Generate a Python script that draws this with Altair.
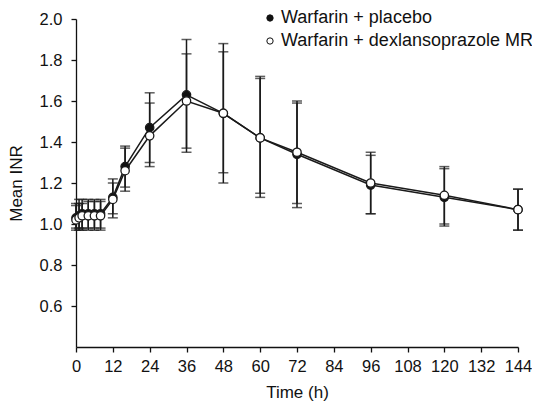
import altair as alt
import pandas as pd

times = [0, 1, 2, 4, 6, 8, 12, 16, 24, 36, 48, 60, 72, 96, 120, 144]
series_names = ["Warfarin + placebo", "Warfarin + dexlansoprazole MR"]

placebo_mean = [1.03, 1.04, 1.05, 1.05, 1.05, 1.05, 1.13, 1.28, 1.47, 1.63, 1.54, 1.42, 1.34, 1.19, 1.13, 1.07]
placebo_upper = [1.10, 1.12, 1.12, 1.12, 1.12, 1.12, 1.22, 1.38, 1.64, 1.90, 1.88, 1.72, 1.60, 1.35, 1.28, 1.17]
placebo_lower = [0.98, 0.98, 0.98, 0.98, 0.98, 0.98, 1.05, 1.18, 1.30, 1.37, 1.25, 1.13, 1.08, 1.05, 0.99, 0.97]

dex_mean = [1.02, 1.03, 1.04, 1.04, 1.04, 1.04, 1.12, 1.26, 1.43, 1.60, 1.54, 1.42, 1.35, 1.20, 1.14, 1.07]
dex_upper = [1.09, 1.10, 1.10, 1.11, 1.11, 1.11, 1.20, 1.37, 1.59, 1.83, 1.84, 1.71, 1.59, 1.335, 1.27, 1.17]
dex_lower = [0.97, 0.97, 0.97, 0.97, 0.97, 0.97, 1.03, 1.16, 1.28, 1.35, 1.20, 1.15, 1.10, 1.05, 1.00, 0.97]

x_ticks = list(range(0, 145, 12))
y_ticks = [0.6, 0.8, 1.0, 1.2, 1.4, 1.6, 1.8, 2.0]

rows = []
for name, m, u, l in [(series_names[0], placebo_mean, placebo_upper, placebo_lower),
                      (series_names[1], dex_mean, dex_upper, dex_lower)]:
    for t, mv, uv, lv in zip(times, m, u, l):
        rows.append({"time": t, "series": name, "mean": mv, "upper": uv, "lower": lv})
df = pd.DataFrame(rows)

FONT = "Liberation Sans"
FS = 16.5

x = alt.X("time:Q", scale=alt.Scale(domain=[0, 144], nice=False),
          axis=alt.Axis(values=x_ticks, title="Time (h)", titlePadding=10, labelPadding=6,
                        labelOverlap=False, labelBound=False, labelFlush=False))
y_scale = alt.Scale(domain=[0.4, 2.0], nice=False, zero=False)
y = alt.Y("mean:Q", scale=y_scale,
          axis=alt.Axis(values=y_ticks, format=".1f", title="Mean INR", titlePadding=14,
                        labelPadding=9, labelOverlap=False, labelFlush=False))

base = alt.Chart(df)

err = base.mark_rule(color="#1a1a1a", strokeWidth=1.5).encode(
    x=x, y=alt.Y("lower:Q", scale=y_scale), y2="upper:Q", detail="series:N")
cap_top = base.mark_tick(color="#1a1a1a", thickness=1.5, size=10, orient="horizontal").encode(
    x=x, y=alt.Y("upper:Q", scale=y_scale))
cap_bot = base.mark_tick(color="#1a1a1a", thickness=1.5, size=10, orient="horizontal").encode(
    x=x, y=alt.Y("lower:Q", scale=y_scale))

lines = base.mark_line(color="#1a1a1a", strokeWidth=1.5).encode(
    x=x, y=y, detail="series:N")

pts = base.mark_point(shape="circle", size=70, strokeWidth=1.3, opacity=1, filled=False,
                      stroke="#1a1a1a").encode(
    x=x, y=y,
    fill=alt.Fill("series:N",
                  scale=alt.Scale(domain=series_names, range=["#111111", "#ffffff"]),
                  sort=series_names,
                  legend=alt.Legend(title=None, orient="none", legendX=185, legendY=-10,
                                    symbolType="circle", symbolSize=40,
                                    symbolStrokeColor="#111111", symbolStrokeWidth=1,
                                    labelFontSize=18, labelFont=FONT, labelColor="#111111",
                                    labelLimit=400, rowPadding=5, labelOffset=2)),
    order=alt.Order("series:N", sort="descending"),
)

chart = alt.layer(err, cap_top, cap_bot, lines, pts).properties(
    width=442, height=328,
    padding={"left": 68, "top": 11, "right": 14, "bottom": 54},
    autosize=alt.AutoSizeParams(type="none"),
).configure_view(stroke=None).configure_axis(
    grid=False, domainColor="#111111", domainWidth=1.3, tickColor="#111111",
    tickWidth=1.3, tickSize=5, labelFont=FONT, labelFontSize=FS, labelColor="#111111",
    titleFont=FONT, titleFontSize=17, titleFontWeight="normal", titleColor="#111111",
)

chart.save("out.html", embed_options={"renderer": "svg", "actions": False})
